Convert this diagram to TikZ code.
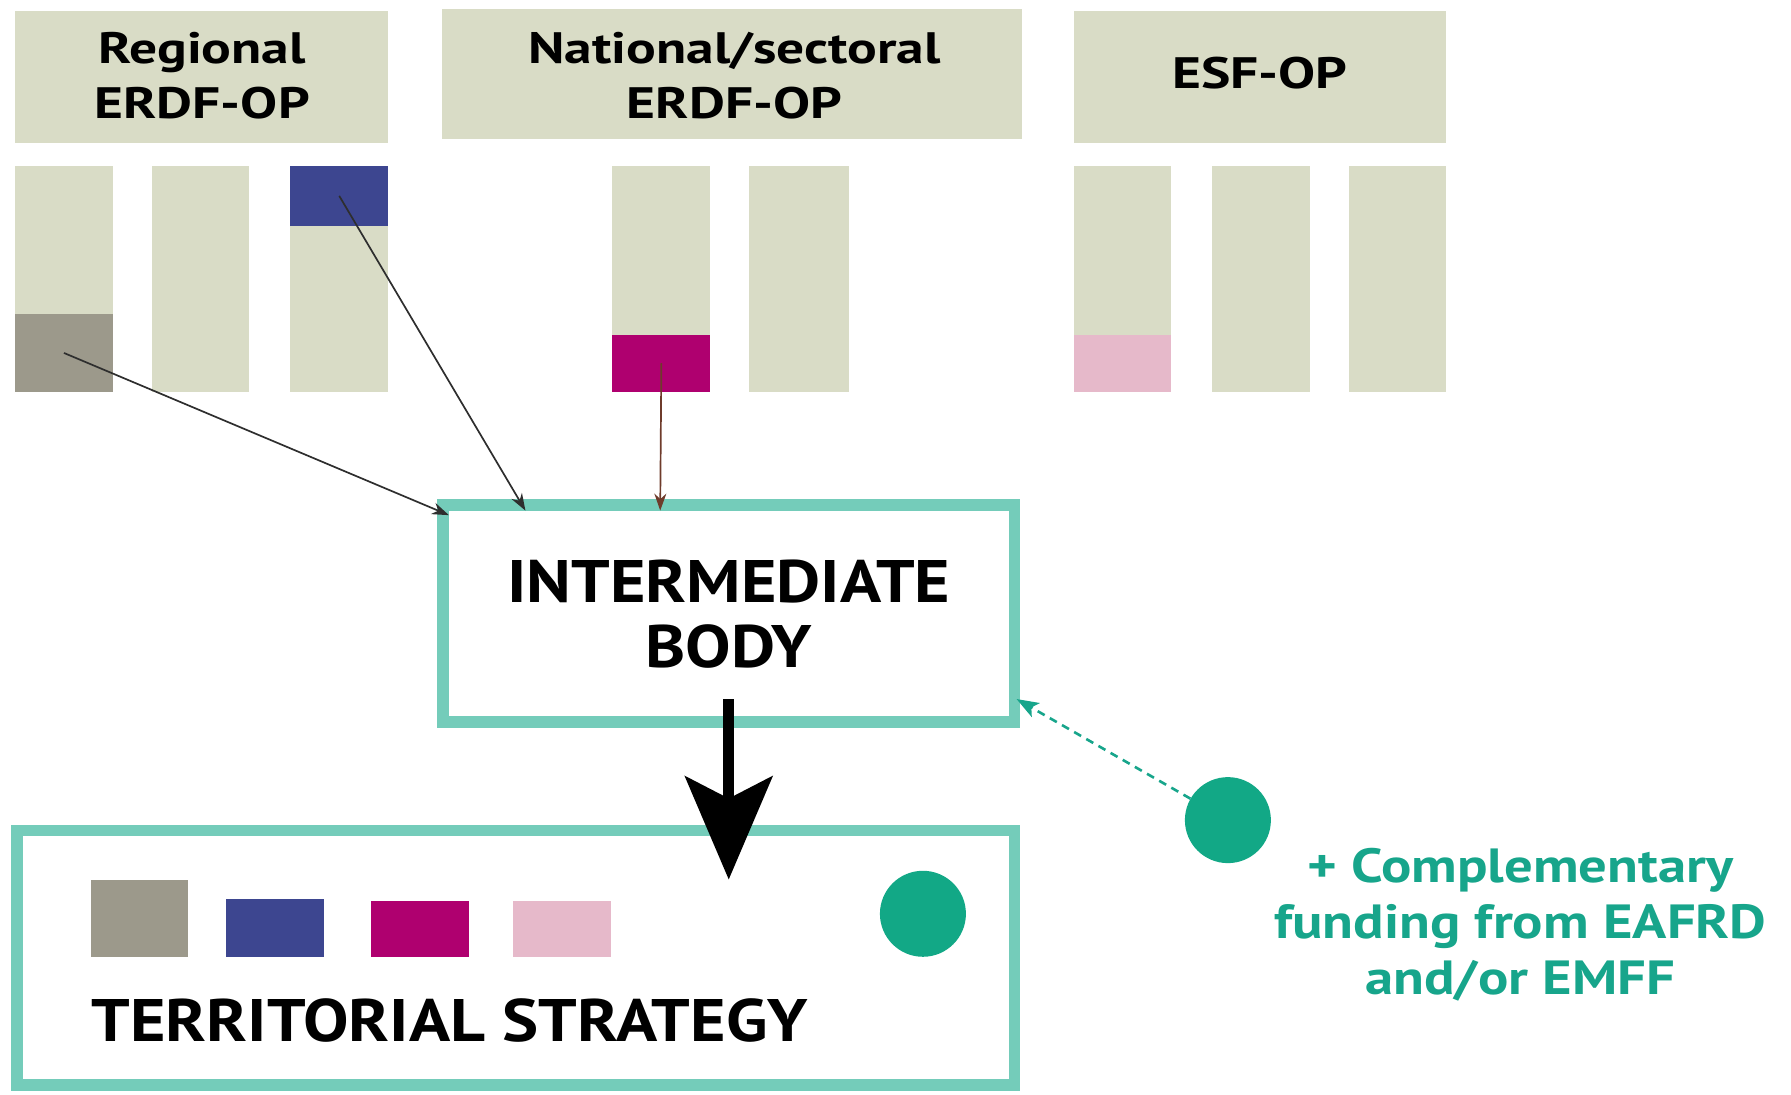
\documentclass[tikz,border=0pt]{standalone}
\usepackage{fontspec}
\setmainfont{PT Sans}
\newfontfamily\hdrfont{PT Sans}[FakeStretch=1.26]
\newfontfamily\bigfont{PT Sans}[FakeStretch=1.135]
\newfontfamily\cmpfont{PT Sans}[FakeStretch=1.18]
\usetikzlibrary{fit,arrows.meta,calc}
\definecolor{hdr}{HTML}{D9DCC6}
\definecolor{cgrey}{HTML}{9C998B}
\definecolor{cblue}{HTML}{3D4690}
\definecolor{cmag}{HTML}{AF006F}
\definecolor{cpink}{HTML}{E6B9CA}
\definecolor{tealb}{HTML}{74CCBA}
\definecolor{cgreen}{HTML}{12A886}
\definecolor{tgreen}{HTML}{17A58B}
\definecolor{brownl}{HTML}{6E3B2B}
\definecolor{darkl}{HTML}{2E2E2E}
\begin{document}
\begin{tikzpicture}[x=1.1422pt,y=-1.1422pt,
  blk/.style={inner sep=0pt, outer sep=0pt, draw=none},
  hdrbox/.style={blk, fill=hdr},
  hdrtext/.style={align=center, inner sep=0pt, font=\hdrfont\bfseries\fontsize{44}{55}\selectfont},
  barbox/.style={blk, fill=hdr},
  seg/.style={blk, fill=#1},
  frame/.style={blk, draw=tealb, line width=11.4pt},
  bigtext/.style={font=\bigfont\bfseries\fontsize{60}{65}\selectfont, align=center, inner sep=0pt},
  thinarrow/.style={line width=1.7pt, -{Stealth[length=17pt,width=12pt]}},
  dot/.style={circle, fill=cgreen, inner sep=0pt, minimum size=86pt},
]
\useasboundingbox (0,0) rectangle (1568,958);

% headers
\node[hdrbox, fit={(13,10) (340,125)}] (hreg) {};
\node[hdrbox, fit={(387,8) (895,122)}] (hnat) {};
\node[hdrbox, fit={(940,10) (1266,125)}] (hesf) {};
\node[hdrtext] (hregt) at (177,66) {Regional\\ERDF-OP};
\node[hdrtext] (hnatt) at (643,66) {National/sectoral\\ERDF-OP};
\node[hdrtext] (hesft) at (1103,64) {ESF-OP};

% bars
\node[barbox, fit={(13,145) (99,343)}] (r1) {};
\node[barbox, fit={(133,145) (218,343)}] (r2) {};
\node[barbox, fit={(254,145) (340,343)}] (r3) {};
\node[barbox, fit={(536,145) (622,343)}] (n1) {};
\node[barbox, fit={(656,145) (743,343)}] (n2) {};
\node[barbox, fit={(940,145) (1025,343)}] (e1) {};
\node[barbox, fit={(1061,145) (1147,343)}] (e2) {};
\node[barbox, fit={(1181,145) (1266,343)}] (e3) {};

\node[seg=cgrey, fit={(13,275) (99,343)}] (sgrey) {};
\node[seg=cblue, fit={(254,145) (340,198)}] (sblue) {};
\node[seg=cmag, fit={(536,293) (622,343)}] (smag) {};
\node[seg=cpink, fit={(940,293) (1025,343)}] (spink) {};

% intermediate body
\node[frame, fit={(388,442) (888,632)}] (ib) {};
\node[bigtext] (ibtext) at (638,538) {INTERMEDIATE\\BODY};

% territorial strategy
\node[frame, fit={(15,727) (888,950)}] (ts) {};
\node[seg=cgrey, fit={(80,770) (165,838)}] (qgrey) {};
\node[seg=cblue, fit={(198,787) (284,838)}] (qblue) {};
\node[seg=cmag, fit={(325,789) (411,838)}] (qmag) {};
\node[seg=cpink, fit={(449,789) (535,838)}] (qpink) {};
\node[dot] (tsdot) at (808,800) {};
\node[bigtext, anchor=base west] (tstext) at (80,912) {TERRITORIAL STRATEGY};

% external funding
\node[dot] (extdot) at (1075,718) {};
\node[font=\cmpfont\bfseries\fontsize{48}{56}\selectfont, text=tgreen, align=center, inner sep=0pt] (exttext) at (1331,810)
  {+ Complementary\\funding from EAFRD\\and/or EMFF};

% arrow endpoints
\coordinate (t1) at (393,451);
\coordinate (t2) at (460,447);
\coordinate (t3) at (578,447);
\coordinate (bigs) at (638,612);
\coordinate (bige) at (638,770);
\coordinate (dtip) at (890,612);

\draw[thinarrow, darkl] (sgrey.center) -- (t1);
\draw[thinarrow, darkl] (sblue.center) -- (t2);
\draw[thinarrow, brownl] (smag.center) -- (t3);
\draw[line width=11pt, -{Stealth[length=103pt,width=87pt,inset=22pt]}] (bigs) -- (bige);
\draw[tgreen, line width=2.6pt, dash pattern=on 8pt off 6pt, -{Stealth[length=22pt,width=16pt,inset=5pt]}] (extdot) -- (dtip);
\end{tikzpicture}
\end{document}
